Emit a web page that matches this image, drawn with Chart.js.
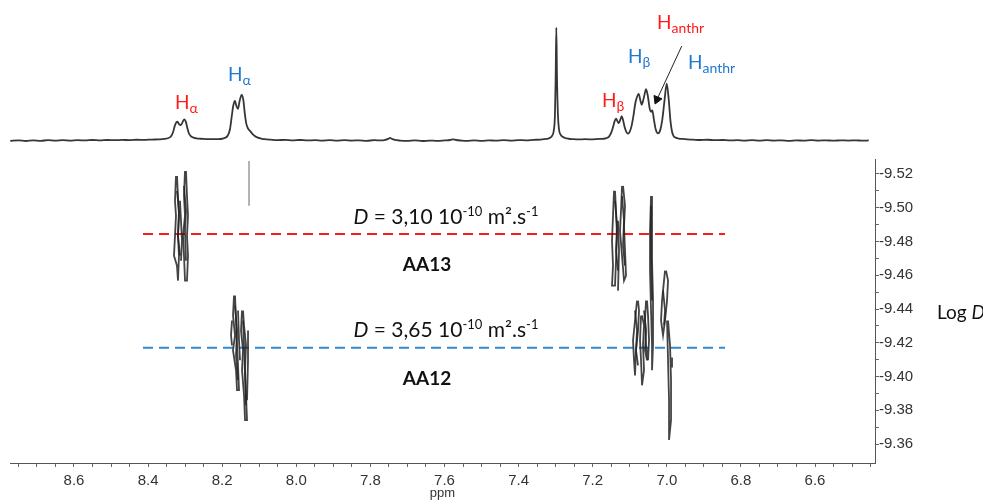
<!DOCTYPE html>
<html><head><meta charset="utf-8">
<script src="https://cdn.jsdelivr.net/npm/chart.js@4.4.1/dist/chart.umd.min.js"></script>
<style>
html,body{margin:0;padding:0;background:#fff;}
#wrap{position:relative;width:983px;height:501px;overflow:hidden;font-family:Lato,"Open Sans",sans-serif;}
#c1{position:absolute;left:0;top:0;}
#c2{position:absolute;left:0;top:150px;}
.lbl{position:absolute;font-size:19px;line-height:19px;white-space:nowrap;}
.lbl sub{font-size:14px;vertical-align:baseline;position:relative;top:4px;}
.red{color:#ff1a1a}.blue{color:#1f78cf}
.dtxt{position:absolute;font-size:21px;line-height:21px;white-space:nowrap;transform:translate(-50%,-50%);color:#111}
.dtxt sup{font-size:13px;vertical-align:baseline;position:relative;top:-8px;}
.aa{position:absolute;font-size:19px;font-weight:bold;line-height:19px;transform:translate(-50%,-50%);color:#111;white-space:nowrap}
.logd{position:absolute;font-size:19px;line-height:19px;left:937px;top:302px;color:#111;white-space:nowrap}
</style></head>
<body>
<div id="wrap">
<canvas id="c1" width="983" height="160"></canvas>
<canvas id="c2" width="983" height="351"></canvas>
<div class="lbl red" style="left:175px;top:92px">H<sub>α</sub></div>
<div class="lbl blue" style="left:228px;top:64px">H<sub>α</sub></div>
<div class="lbl red" style="left:602px;top:90px">H<sub>β</sub></div>
<div class="lbl blue" style="left:628px;top:46px">H<sub>β</sub></div>
<div class="lbl red" style="left:657px;top:12px">H<sub>anthr</sub></div>
<div class="lbl blue" style="left:688px;top:52px">H<sub>anthr</sub></div>
<div class="dtxt" style="left:446px;top:217px"><i>D</i> = 3,10 10<sup>-10</sup> m².s<sup>-1</sup></div>
<div class="aa" style="left:427px;top:263px">AA13</div>
<div class="dtxt" style="left:446px;top:330px"><i>D</i> = 3,65 10<sup>-10</sup> m².s<sup>-1</sup></div>
<div class="aa" style="left:427px;top:377px">AA12</div>
<div class="logd">Log <i>D</i></div>
</div>
<script>
// ---- axis ranges / ticks ----
const ppmMin = 6.4381, ppmMax = 8.7727;
const logDMin = -9.52886, logDMax = -9.34878;
const xTickLabels = ['8.6','8.4','8.2','8.0','7.8','7.6','7.4','7.2','7.0','6.8','6.6'];
const yTickLabels = ['-9.52','-9.50','-9.48','-9.46','-9.44','-9.42','-9.40','-9.38','-9.36'];

// ---- 1D 1H spectrum (ppm, relative intensity; CHCl3 = 100) ----
const specPpm = [8.772,8.75,8.73,8.71,8.69,8.67,8.65,8.63,8.61,8.59,8.57,8.55,8.53,8.51,8.49,8.47,8.45,8.43,8.41,8.39,8.37,8.355,8.345,8.338,8.332,8.328,8.324,8.3206,8.317,8.3115,8.306,8.3023,8.298,8.294,8.290,8.285,8.279,8.27,8.26,8.25,8.24,8.23,8.22,8.21,8.20,8.192,8.185,8.179,8.174,8.170,8.1655,8.162,8.1575,8.153,8.1474,8.143,8.139,8.135,8.130,8.125,8.119,8.112,8.104,8.095,8.085,8.07,8.05,8.03,8.01,7.99,7.97,7.95,7.93,7.91,7.89,7.87,7.85,7.83,7.81,7.79,7.77,7.76,7.752,7.747,7.742,7.734,7.72,7.70,7.68,7.66,7.64,7.62,7.60,7.585,7.577,7.569,7.555,7.54,7.52,7.50,7.48,7.46,7.44,7.42,7.40,7.38,7.36,7.34,7.325,7.315,7.309,7.305,7.302,7.300,7.2982,7.2965,7.294,7.291,7.287,7.281,7.274,7.265,7.255,7.24,7.22,7.20,7.18,7.165,7.156,7.150,7.145,7.141,7.1371,7.133,7.1295,7.1255,7.1217,7.118,7.1135,7.109,7.1047,7.100,7.095,7.090,7.085,7.080,7.0759,7.071,7.0677,7.062,7.056,7.051,7.046,7.0425,7.0392,7.035,7.030,7.0239,7.018,7.012,7.006,7.0003,6.995,6.990,6.986,6.982,6.976,6.968,6.958,6.945,6.93,6.91,6.89,6.87,6.85,6.83,6.81,6.79,6.77,6.75,6.73,6.71,6.69,6.67,6.65,6.63,6.61,6.59,6.57,6.55,6.53,6.51,6.49,6.47,6.455];
const specInt = [-0.3,0.2,-0.4,0.1,-0.2,0.3,-0.1,0.3,0.0,0.4,0.1,0.5,0.2,0.5,0.3,0.6,0.4,0.7,0.6,0.9,1.0,1.4,2.3,3.8,8,13,16,16.8,14.8,13.6,17,18.7,16.5,11,6.5,4,2.8,2.0,1.6,1.4,1.3,1.2,1.3,1.2,1.6,2.4,4.5,10,22,31,35,31,28,35,40.5,36,24,15,10.5,8.6,6.2,4,2.6,1.8,1.2,0.8,0.4,0.6,0.2,0.5,0.1,0.4,0.0,0.3,-0.1,0.3,0.0,0.2,-0.2,0.3,0.1,0.6,1.5,2.3,1.6,0.6,0.0,-0.3,0.1,-0.4,0.0,-0.3,0.1,0.5,1.1,0.5,0.0,-0.3,0.1,-0.2,0.2,-0.1,0.3,0.0,0.4,0.2,0.6,0.9,1.4,2.4,4.5,9,22,55,100,58,24,10,5.5,3.3,2.2,1.6,1.3,1.0,1.2,1.0,1.4,2.0,3.5,7,12,17,19.5,17,15.4,18.5,21.7,18,11.5,7.5,6.1,8,13,22,33,39,41.3,35,31.7,38,45.4,39,28,25.5,26.8,19,10,6.4,9,19,36,50.3,37,17,8,4.2,2.6,1.8,1.4,1.0,0.8,0.5,0.7,0.3,0.5,0.1,0.4,0.0,0.3,-0.1,0.3,0.0,0.2,-0.2,0.2,-0.1,0.3,0.0,0.2,-0.1,0.2,0.0,0.2,-0.1,0.1];

// annotation arrow (ppm, intensity) for H_anthr of AA13
const arrowPpm = [6.9597, 7.0264];
const arrowInt = [83.6, 36.4];

// ---- DOSY cross peaks: contour strokes (ppm / log D) ----
const aa13AlphaPpm = [[8.3247,8.3274,8.3247,8.3274,8.3301,8.3220,8.3193,8.3166,8.3193,8.3166,8.3193,8.3220],
  [8.3004,8.3031,8.3004,8.3058,8.3031,8.3004,8.2950,8.2923,8.2950,8.2923,8.2950,8.2977],
  [8.3139,8.3112,8.3085,8.3112],
  [8.3220,8.3166,8.3193,8.3139],
  [8.3031,8.2977,8.3004,8.2977]];
const aa13AlphaLogD = [[-9.5188,-9.5041,-9.4952,-9.4834,-9.4716,-9.4657,-9.4568,-9.4716,-9.4834,-9.4952,-9.5070,-9.5188],
  [-9.5218,-9.5070,-9.4952,-9.4834,-9.4716,-9.4568,-9.4568,-9.4716,-9.4834,-9.4952,-9.5070,-9.5218],
  [-9.5041,-9.4923,-9.4804,-9.4686],
  [-9.5100,-9.4982,-9.4834,-9.4716],
  [-9.5129,-9.4982,-9.4863,-9.4686]];
// faint artefact trace near 8.13 ppm
const faintPpm = [8.1276, 8.1276];
const faintLogD = [-9.5277, -9.5011];
const aa12AlphaPpm = [[8.1735,8.1762,8.1735],
  [8.1681,8.1708,8.1654,8.1708,8.1627,8.1600,8.1546,8.1573,8.1600,8.1627,8.1654],
  [8.1465,8.1492,8.1438,8.1465,8.1411,8.1384,8.1330,8.1357,8.1384,8.1357,8.1411,8.1438],
  [8.1303,8.1303,8.1330],
  [8.1573,8.1546,8.1519],
  [8.1654,8.1600,8.1627,8.1573],
  [8.1438,8.1411,8.1384,8.1357]];
const aa12AlphaLogD = [[-9.4332,-9.4244,-9.4185],
  [-9.4480,-9.4362,-9.4244,-9.4155,-9.4037,-9.3919,-9.3919,-9.4066,-9.4185,-9.4332,-9.4480],
  [-9.4391,-9.4273,-9.4155,-9.4037,-9.3889,-9.3742,-9.3742,-9.3889,-9.4037,-9.4185,-9.4303,-9.4391],
  [-9.4273,-9.4096,-9.3860],
  [-9.4391,-9.4214,-9.4096],
  [-9.4421,-9.4273,-9.4125,-9.3978],
  [-9.4332,-9.4185,-9.4007,-9.3830]];
const aa13BetaPpm = [[7.1425,7.1452,7.1479,7.1452,7.1479,7.1398,7.1371,7.1344,7.1371,7.1398],
  [7.1209,7.1236,7.1263,7.1209,7.1155,7.1101,7.1128,7.1155,7.1128,7.1182],
  [7.1317,7.1290,7.1317],
  [7.1398,7.1344,7.1371,7.1317],
  [7.1209,7.1155,7.1182,7.1128],
  [7.0426,7.0453,7.0453,7.0426,7.0399,7.0399,7.0372,7.0372,7.0399,7.0399,7.0399],
  [7.0426,7.0426,7.0399]];
const aa13BetaLogD = [[-9.5100,-9.4952,-9.4804,-9.4657,-9.4539,-9.4539,-9.4686,-9.4834,-9.4982,-9.5100],
  [-9.5129,-9.4982,-9.4863,-9.4716,-9.4568,-9.4598,-9.4745,-9.4893,-9.5011,-9.5129],
  [-9.4923,-9.4745,-9.4509],
  [-9.5041,-9.4893,-9.4745,-9.4627],
  [-9.5070,-9.4923,-9.4775,-9.4657],
  [-9.5070,-9.4863,-9.4627,-9.4391,-9.4185,-9.4037,-9.4185,-9.4450,-9.4686,-9.4923,-9.5070],
  [-9.5011,-9.4745,-9.4450]];
const aa12BetaPpm = [[7.0804,7.0858,7.0912,7.0885,7.0858,7.0831,7.0777,7.0750,7.0777],
  [7.0696,7.0723,7.0696,7.0669,7.0615,7.0642,7.0615,7.0669],
  [7.0561,7.0588,7.0561,7.0507,7.0480,7.0507,7.0534],
  [7.0858,7.0804,7.0831,7.0777],
  [7.0615,7.0561,7.0588,7.0534],
  [7.0048,7.0129,7.0156,7.0102,7.0048,6.9994,6.9967,7.0021],
  [7.0102,7.0048,7.0075],
  [6.9994,6.9967,6.9940,6.9940,6.9886,6.9886,6.9913,6.9967],
  [6.9859,6.9859]];
const aa12BetaLogD = [[-9.4450,-9.4332,-9.4214,-9.4096,-9.4007,-9.4155,-9.4273,-9.4391,-9.4450],
  [-9.4362,-9.4214,-9.4096,-9.3948,-9.4037,-9.4185,-9.4303,-9.4362],
  [-9.4450,-9.4332,-9.4185,-9.4096,-9.4214,-9.4362,-9.4450],
  [-9.4391,-9.4273,-9.4155,-9.4066],
  [-9.4391,-9.4273,-9.4155,-9.4096],
  [-9.4627,-9.4450,-9.4332,-9.4244,-9.4332,-9.4450,-9.4568,-9.4627],
  [-9.4509,-9.4391,-9.4303],
  [-9.4332,-9.4096,-9.3860,-9.3624,-9.3742,-9.3978,-9.4185,-9.4332],
  [-9.4113,-9.4054]];

// ---- diffusion levels ----
const levelNames = ['AA13','AA12'];
const levelLogD = [-9.4844, -9.4171];
const levelColors = ['#ff1a1a', '#2e8bd6'];
const levelPpm = [8.4138, 6.8429];

// ---------- chart 1: 1D spectrum ----------
const specData = specPpm.map((p, i) => ({x: p, y: specInt[i]}));
new Chart(document.getElementById('c1'), {
  type: 'line',
  data: {datasets: [
    {data: specData, borderColor: '#363636', borderWidth: 1.8, pointRadius: 0,
     cubicInterpolationMode: 'monotone'},
    {data: arrowPpm.map((p, i) => ({x: p, y: arrowInt[i]})), borderColor: '#222', borderWidth: 1,
     pointRadius: [0, 5], pointStyle: 'triangle', pointRotation: 203,
     pointBackgroundColor: '#111', pointBorderColor: '#111'}
  ]},
  options: {
    responsive: false, animation: false, events: [],
    layout: {padding: {left: 10, right: 108, top: 0, bottom: 0}},
    plugins: {legend: {display: false}, tooltip: {enabled: false}},
    scales: {
      x: {type: 'linear', reverse: true, min: ppmMin, max: ppmMax, display: false},
      y: {type: 'linear', min: -11.9, max: 119.1, display: false}
    }
  }
});

// ---------- chart 2: DOSY map ----------
const ds = [];
function addContours(ppmArr, dArr) {
  ppmArr.forEach((stroke, k) => {
    ds.push({data: stroke.map((p, i) => ({x: p, y: dArr[k][i]})),
      borderColor: 'rgba(35,35,35,0.85)', borderWidth: 1.8, pointRadius: 0, tension: 0});
  });
}
addContours(aa13AlphaPpm, aa13AlphaLogD);
addContours(aa12AlphaPpm, aa12AlphaLogD);
addContours(aa13BetaPpm, aa13BetaLogD);
addContours(aa12BetaPpm, aa12BetaLogD);
ds.push({data: faintPpm.map((p, i) => ({x: p, y: faintLogD[i]})),
  borderColor: 'rgba(110,110,110,0.8)', borderWidth: 1.3, pointRadius: 0});
levelLogD.forEach((d, i) => {
  ds.push({label: levelNames[i], data: levelPpm.map(p => ({x: p, y: d})),
    borderColor: levelColors[i], borderWidth: 2, borderDash: [10, 6], pointRadius: 0});
});

const xTickVals = [];
for (let v = 8.75; v > 6.44; v -= 0.05) xTickVals.push(Math.round(v * 100) / 100);
const yTickVals = [];
for (let v = -9.52; v < -9.355; v += 0.01) yTickVals.push(Math.round(v * 100) / 100);

new Chart(document.getElementById('c2'), {
  type: 'line',
  data: {datasets: ds},
  options: {
    responsive: false, animation: false, events: [],
    layout: {padding: {left: 10, right: 0, top: 8, bottom: 0}},
    plugins: {legend: {display: false}, tooltip: {enabled: false}},
    scales: {
      x: {
        type: 'linear', reverse: true, min: ppmMin, max: ppmMax, position: 'bottom',
        afterBuildTicks: s => { s.ticks = xTickVals.map(v => ({value: v})); },
        afterFit: s => { s.height = 38; },
        ticks: {autoSkip: false, maxRotation: 0, padding: 5, color: '#333',
          font: {family: 'Liberation Sans, Arial, sans-serif', size: 15},
          callback: v => { const l = xTickLabels.find(t => Math.abs(parseFloat(t) - v) < 1e-6); return l || ''; }},
        grid: {drawOnChartArea: false, drawTicks: true, tickLength: 4, color: '#666'},
        border: {display: true, color: '#555', width: 1},
        title: {display: true, text: 'ppm', color: '#333', padding: {top: 0, bottom: 0},
          font: {family: 'Liberation Sans, Arial, sans-serif', size: 13}}
      },
      y: {
        type: 'linear', position: 'right', reverse: true, min: logDMin, max: logDMax,
        afterBuildTicks: s => { s.ticks = yTickVals.map(v => ({value: v})); },
        afterFit: s => { s.width = 108; },
        ticks: {autoSkip: false, padding: 0, color: '#333',
          font: {family: 'Liberation Sans, Arial, sans-serif', size: 15},
          callback: v => { const l = yTickLabels.find(t => Math.abs(parseFloat(t) - v) < 1e-6); return l || ''; }},
        grid: {drawOnChartArea: false, drawTicks: true, tickLength: 4, color: '#666'},
        border: {display: true, color: '#555', width: 1}
      }
    }
  }
});
</script>
</body></html>
